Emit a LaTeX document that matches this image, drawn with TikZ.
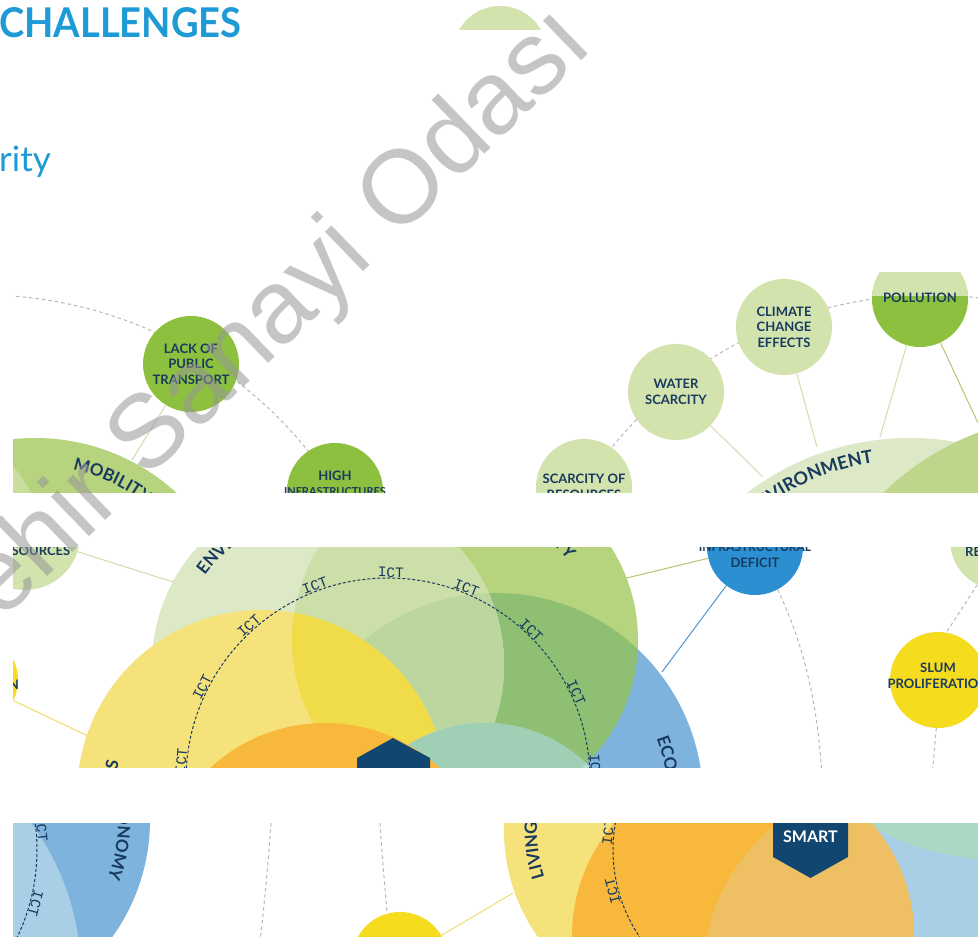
\documentclass[tikz,border=0pt]{standalone}
\usepackage{fontspec}
\setmainfont{Lato}
\newfontfamily\lab{Lato}
\newfontfamily\wmfont{Liberation Sans}
\newfontfamily\ictfont{Liberation Mono}
\usetikzlibrary{decorations.text}
\definecolor{mynavy}{HTML}{183A5E}
\definecolor{titleblue}{HTML}{1E9AD6}
\definecolor{brightgreen}{HTML}{8DC03F}
\definecolor{lightgreen}{HTML}{D3E3AE}
\definecolor{mobgreen}{HTML}{B6D37E}
\definecolor{mobinner}{HTML}{C9DE9E}
\definecolor{envlight}{HTML}{DDE9C6}
\definecolor{envmid}{HTML}{BDD68B}
\definecolor{dashgray}{HTML}{B8B8B8}
\definecolor{dashlav}{HTML}{B9B3CE}
\definecolor{linkc}{HTML}{D6DAB0}
\definecolor{linkolive}{HTML}{BCC272}
\definecolor{defblue}{HTML}{2B8FD1}
\definecolor{ecoblue}{HTML}{7EB3DD}
\definecolor{darkgreen}{HTML}{8EBF72}
\definecolor{envmob}{HTML}{CDDFA8}
\definecolor{envmobeco}{HTML}{BCD6A0}
\definecolor{yellowpale}{HTML}{F6E27A}
\definecolor{yellowbright}{HTML}{F0DB48}
\definecolor{ydot}{HTML}{F6DC1E}
\definecolor{orangec}{HTML}{F7B83B}
\definecolor{tealc}{HTML}{B3DDD3}
\definecolor{tealdark}{HTML}{9FCFB5}
\definecolor{hexnavy}{HTML}{10466F}
\definecolor{lightblue}{HTML}{A9CFE6}
\definecolor{orangemuted}{HTML}{EFC063}
\definecolor{tealthree}{HTML}{AAD8C4}
\definecolor{bluelink}{HTML}{5595CB}
\definecolor{yellowlink}{HTML}{EEDD6E}
\definecolor{wmcol}{HTML}{969696}
\newcommand\arcfont{\lab\bfseries\fontsize{17}{17}\selectfont}
\newcommand\arcfontb{\lab\bfseries\fontsize{18}{18}\selectfont}
\begin{document}
\begin{tikzpicture}[x=1pt,y=1pt,
  lbl/.style={font=\lab\bfseries\fontsize{13}{15.5}\selectfont, text=mynavy, align=center, inner sep=0pt},
  bub/.style={circle, minimum size=96pt, inner sep=0pt},
  dgray/.style={draw=dashgray, line width=1pt, dash pattern=on 3.5pt off 3pt},
  dlav/.style={draw=dashlav, line width=1pt, dash pattern=on 3.5pt off 3pt},
  link/.style={draw=linkc, line width=1pt},
  ictline/.style={draw=mynavy, line width=1pt, dash pattern=on 3pt off 2pt},
  ictlbl/.style={font=\ictfont\fontsize{14.5}{14.5}\selectfont, text=mynavy, inner sep=0.6pt, anchor=south},
]
\useasboundingbox (0,0) rectangle (978,937);
\fill[white] (0,0) rectangle (978,937);
\clip (0,0) rectangle (978,937);

% ---------- header ----------
\node[anchor=base west, inner sep=0pt, font=\lab\bfseries\fontsize{41}{41}\selectfont, text=titleblue, xscale=0.93] (title) at (-1,899) {CHALLENGES};
\node[anchor=base west, inner sep=0pt, font=\lab\fontsize{35}{35}\selectfont, text=titleblue] (sub) at (-1,765) {rity};
\begin{scope}
  \clip (0,907) rectangle (978,937);
  \fill[lightgreen] (500,884) circle (47);
\end{scope}

% ---------- strip 1 ----------
\begin{scope}
  \clip (13,444) rectangle (978,664);
  \draw[dgray] (-18,223) ++(88:419) arc (88:26:419);
  \draw[dlav] (930,234) ++(152:408) arc (152:76:408);
  \node[bub, fill=brightgreen] (lack) at (191,573) {};
  \node[bub, fill=brightgreen] (high) at (335,446) {};
  \node[bub, fill=lightgreen] (scar) at (584,450) {};
  \node[bub, fill=lightgreen] (water) at (676,545) {};
  \node[bub, fill=lightgreen] (climate) at (784,610) {};
  \node[bub, fill=brightgreen] (poll) at (920,638) {};
  \begin{scope}
    \clip (920,638) circle (48);
    \fill[lightgreen] (860,641) rectangle (990,700);
  \end{scope}
  \coordinate (mobtop) at (132,477);
  \coordinate (envA) at (763,460);
  \coordinate (envB) at (817,490);
  \coordinate (envC) at (880,500);
  \coordinate (envD) at (978,514);
  \draw[link] (lack) -- (mobtop);
  \draw[link] (water) -- (envA);
  \draw[link] (climate) -- (envB);
  \draw[link] (poll) -- (envC);
  \draw[draw=linkolive, line width=1pt] (poll) -- (envD);
  \fill[mobgreen] (35,289) circle (210);
  \fill[mobinner] (-100,377) circle (147);
  \fill[envlight] (910,230) circle (269);
  \fill[envmid] (1075,247) circle (275);
  \path[decorate, decoration={text along path, text={|\arcfont|MOBILITY}, text color=mynavy, text align=left}] (35,289) ++(78:182) arc (78:20:182);
  \path[decorate, decoration={text along path, text={|\arcfontb|ENVIRONMENT}, text color=mynavy, text align=right}] (910,230) ++(150:247) arc (150:98.5:247);
  \node[lbl] at (lack) {LACK OF\\PUBLIC\\TRANSPORT};
  \node[lbl] at (high) {HIGH\\{\fontsize{11}{15.5}\selectfont INFRASTRUCTURES}\\COSTS};
  \node[lbl] at (scar) {SCARCITY OF\\RESOURCES};
  \node[lbl] at (water) {WATER\\SCARCITY};
  \node[lbl] at (climate) {CLIMATE\\CHANGE\\EFFECTS};
  \node[lbl] at (920,639) {POLLUTION};
\end{scope}

% ---------- strip 2 ----------
\begin{scope}
  \clip (13,169) rectangle (978,389);
  \node[circle, minimum size=110pt, inner sep=0pt, fill=lightgreen] (sources) at (25,402) {};
  \node[bub, fill=ydot] (yleft) at (-30,257) {};
  \node[bub, fill=defblue] (deficit) at (755,390) {};
  \node[circle, minimum size=100pt, inner sep=0pt, fill=lightgreen] (recirc) at (1000,397) {};
  \node[bub, fill=ydot] (slum) at (938,257) {};
  \draw[dgray] (deficit.-62) .. controls (805,290) and (818,230) .. (822,160);
  \draw[dgray] (recirc.-117) -- (slum.80);
  \draw[dgray] (slum.-92) -- (932,160);
  \coordinate (envS) at (173,355);
  \coordinate (mobD) at (610,355);
  \coordinate (ecoD) at (662,265);
  \coordinate (livL) at (90,200);
  \draw[link] (sources) -- (envS);
  \draw[draw=linkolive, line width=1pt] (deficit) -- (mobD);
  \draw[draw=bluelink, line width=1pt] (deficit) -- (ecoD);
  \draw[draw=yellowlink, line width=1pt] (yleft) -- (livL);
  % overlapping circles
  \fill[ecoblue] (496,137) circle (207);
  \fill[mobgreen] (465,297) circle (173);
  \begin{scope}
    \clip (465,297) circle (173);
    \fill[darkgreen] (496,137) circle (207);
  \end{scope}
  \fill[envlight] (328,272) circle (176);
  \begin{scope}
    \clip (328,272) circle (176);
    \fill[envmob] (465,297) circle (173);
    \clip (465,297) circle (173);
    \fill[envmobeco] (496,137) circle (207);
  \end{scope}
  \fill[yellowpale] (262,142) circle (185);
  \begin{scope}
    \clip (262,142) circle (185);
    \fill[yellowbright] (465,297) circle (173);
  \end{scope}
  \fill[tealc] (485,67) circle (147);
  \begin{scope}
    \clip (485,67) circle (147);
    \clip (465,297) circle (173);
    \fill[tealdark] (496,137) circle (207);
  \end{scope}
  \fill[orangec] (325,45) circle (169);
  \fill[hexnavy] (393,199) -- (430,179) -- (430,137) -- (393,117) -- (357,137) -- (357,179) -- cycle;
  % ICT ring
  \draw[ictline] (388,157) circle (202);
  \foreach \a [evaluate=\a as \r using \a-90] in {3.6,25,46.4,67.8,89.2,110.6,132,153.4,174.8}
    \node[ictlbl, rotate=\r] at ([shift={(\a:202)}]388,157) {ICT};
  % curved titles
  \path[decorate, decoration={text along path, text={|\arcfont|ENVIRONMENT}, text color=mynavy, text align=left}] (328,272) ++(144:152) arc (144:40:152);
  \path[decorate, decoration={text along path, text={|\arcfont|MOBILITY}, text color=mynavy, text align=right}] (465,297) ++(150:130) arc (150:38:130);
  \path[decorate, decoration={text along path, text={|\arcfont|ECONOMY}, text color=mynavy, text align=left}] (496,137) ++(21:172) arc (21:-60:172);
  \node[font=\arcfont, text=mynavy, rotate=78.8, anchor=base, inner sep=0pt] at (118,171) {S};
  % labels
  \node[lbl] at (33,386) {RESOURCES};
  \node[lbl, anchor=east] at (19,252) {N};
  \node[lbl] at (755,382) {{\fontsize{12}{15.5}\selectfont INFRASTRUCTURAL}\\DEFICIT};
  \node[lbl, anchor=west] at (965,385) {RE};
  \node[lbl] at (938,261) {SLUM\\PROLIFERATION};
\end{scope}

% ---------- strip 3 ----------
\begin{scope}
  \clip (13,0) rectangle (978,113);
  \draw[dgray] (271,114) .. controls (268,70) and (264,30) .. (260,-5);
  \draw[dgray] (380,114) .. controls (382,80) and (385,50) .. (387,24);
  \node[bub, fill=ydot] (ybot) at (400,-23) {};
  \coordinate (livB) at (513,44);
  \draw[draw=yellowlink, line width=1pt] (ybot) -- (livB);
  \fill[ecoblue] (-50,117) circle (200);
  \fill[lightblue] (-175,-38) circle (256);
  \draw[ictline] (-165,87) ++(40:202) arc (40:-40:202);
  \foreach \a [evaluate=\a as \r using \a-90] in {-15,6}
    \node[ictlbl, rotate=\r] at ([shift={(\a:202)}]-165,87) {ICT};
  \path[decorate, decoration={text along path, text={|\arcfont|ECONOMY}, text color=mynavy, text align=left}] (-50,117) ++(10:168) arc (10:-60:168);
  \fill[yellowpale] (690,107) circle (186);
  \fill[lightblue] (895,-38) circle (192);
  \fill[tealthree] (1000,337) circle (260);
  \fill[orangec] (743,1) circle (171);
  \begin{scope}
    \clip (743,1) circle (171);
    \fill[orangemuted] (895,-38) circle (192);
  \end{scope}
  \path[decorate, decoration={text along path, text={|\arcfont|LIVING}, text color=mynavy, text align=left}] (690,107) ++(198:153) arc (198:150:153);
  \draw[ictline] (768,87) ++(140:155) arc (140:215:155);
  \foreach \a [evaluate=\a as \r using \a-90] in {173.4,194.8}
    \node[ictlbl, rotate=\r] at ([shift={(\a:155)}]768,87) {ICT};
  \fill[hexnavy] (773,130) -- (773,80) -- (810.5,59) -- (848,80) -- (848,130) -- cycle;
  \node[font=\lab\bfseries\fontsize{16}{16}\selectfont, text=white, inner sep=0pt] (smart) at (810.5,100) {SMART};
\end{scope}

% ---------- watermark ----------
\node[font=\wmfont\fontsize{104}{104}\selectfont, text=wmcol, text opacity=0.55, rotate=44, anchor=base east, inner sep=0pt] (wm) at (596,890) {ehir Sanayi Odası};
\end{tikzpicture}
\end{document}
